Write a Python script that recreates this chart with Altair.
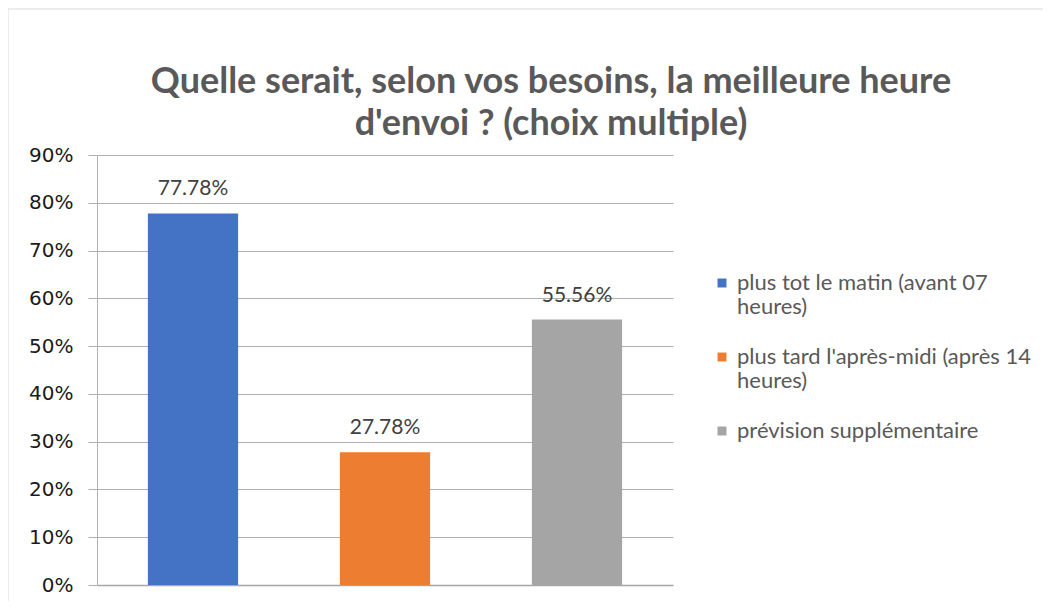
import altair as alt
import pandas as pd

categories = [
    "plus tot le matin (avant 07 heures)",
    "plus tard l'après-midi (après 14 heures)",
    "prévision supplémentaire",
]
values = [0.7778, 0.2778, 0.5556]
colors = ["#4472C4", "#ED7D31", "#A5A5A5"]
title_lines = ["Quelle serait, selon vos besoins, la meilleure heure", "d'envoi ? (choix multiple)"]

df = pd.DataFrame({"cat": categories, "val": values})

label_expr = (
    "datum.label == 'plus tot le matin (avant 07 heures)' ? ['plus tot le matin (avant 07', 'heures)'] : "
    "datum.label == \"plus tard l'après-midi (après 14 heures)\" ? [\"plus tard l'après-midi (après 14\", 'heures)'] : datum.label"
)

base = alt.Chart(df)

bars = base.mark_bar().encode(
    x=alt.X("cat:N", sort=categories, axis=alt.Axis(labels=False, ticks=False, title=None,
                                                    domainColor="#a6a6a6", domainWidth=1.5),
            scale=alt.Scale(paddingInner=0.53, paddingOuter=0.265)),
    y=alt.Y("val:Q", scale=alt.Scale(domain=[0, 0.9]),
            axis=alt.Axis(format=".0%", values=[i / 10 for i in range(10)], title=None,
                          labelFontSize=20, labelColor="#1a1a1a", labelFont="DejaVu Sans",
                          gridColor="#b0b0b0", domainColor="#b0b0b0", tickColor="#b0b0b0",
                          tickSize=9, labelPadding=15)),
    color=alt.Color("cat:N", sort=categories,
                    scale=alt.Scale(domain=categories, range=colors),
                    legend=alt.Legend(title=None, orient="none", legendX=614, legendY=117,
                                      symbolType="square", symbolSize=80, symbolStrokeWidth=0,
                                      labelFontSize=22, labelColor="#595959", labelFont="Lato",
                                      labelExpr=label_expr, labelLimit=400, rowPadding=28,
                                      labelOffset=4, labelBaseline="middle")),
)

text = base.mark_text(dy=-14, fontSize=21, color="#404040", font="Lato", baseline="bottom").encode(
    x=alt.X("cat:N", sort=categories),
    y=alt.Y("val:Q"),
    text=alt.Text("val:Q", format=".2%"),
)

border = alt.Chart(pd.DataFrame({"b": [0]})).mark_rect(fill=None, stroke="#d9d9d9", strokeWidth=1).encode(
    x=alt.value(-89), x2=alt.value(1000), y=alt.value(-146), y2=alt.value(480)
)

chart = alt.layer(border, bars, text).properties(
    width=576,
    height=430,
    title=alt.TitleParams(text=title_lines, anchor="middle", dx=166, offset=-134,
                          fontSize=36, font="Lato", fontWeight="bold", color="#595959",
                          lineHeight=42),
    autosize=alt.AutoSizeParams(type="none"),
    padding={"left": 89, "top": 147, "right": 370, "bottom": 16},
).configure_view(stroke=None)

chart.save("out.html", embed_options={"renderer": "svg", "actions": False})
